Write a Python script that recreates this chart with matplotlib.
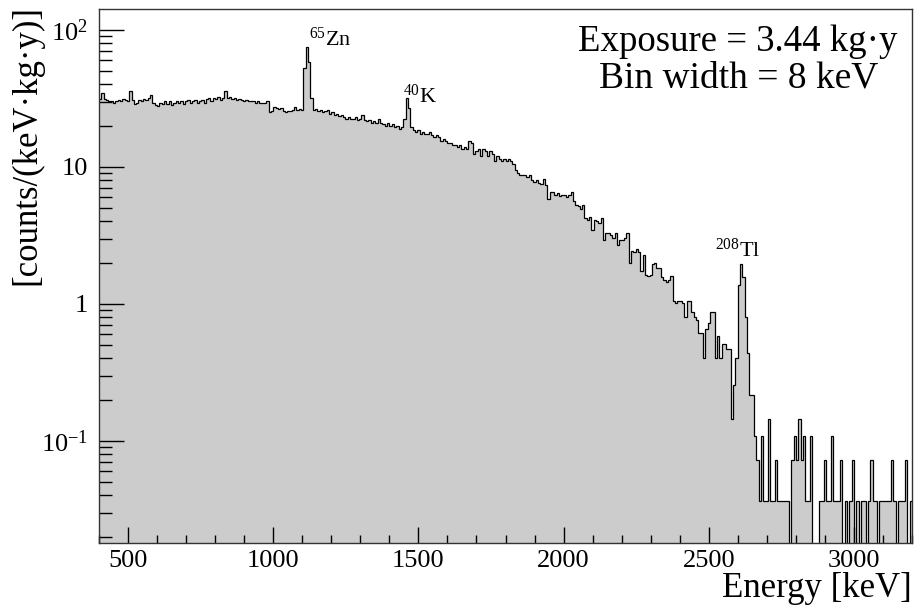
import numpy as np
import matplotlib
matplotlib.use("Agg")
import matplotlib.pyplot as plt
from matplotlib.ticker import MultipleLocator, LogLocator, NullFormatter

plt.rcParams['font.family'] = ['Liberation Serif', 'DejaVu Serif']
plt.rcParams['mathtext.fontset'] = 'custom'
plt.rcParams['mathtext.rm'] = 'Liberation Serif'
plt.rcParams['mathtext.it'] = 'Liberation Serif:italic'

# histogram settings
e_min = 400
bin_width = 8        # keV
exposure = 3.44      # kg*y

# counts per 8 keV bin
counts_low = [  # 400 - 1400 keV
    867, 949, 867, 853, 839, 826, 812, 839, 853, 826, 867, 853, 826, 991, 853, 798, 812, 853, 839, 867, 853, 881, 922, 812, 784,
    771, 812, 798, 839, 798, 826, 784, 812, 826, 812, 839, 798, 826, 853, 812, 826, 853, 812, 839, 853, 812, 867, 881, 839, 881,
    867, 894, 853, 881, 977, 881, 894, 867, 881, 853, 867, 853, 839, 853, 839, 839, 826, 812, 826, 812, 812, 812, 839, 688, 702,
    757, 743, 729, 743, 702, 688, 702, 702, 716, 757, 716, 729, 716, 1459, 2064, 1596, 881, 716, 729, 702, 716, 688, 702, 716, 674,
    688, 660, 674, 647, 660, 633, 619, 633, 619, 619, 633, 605, 619, 660, 605, 592, 605, 578, 592, 578, 619, 578, 564, 550, 578,
]
counts_mid = [  # 1400 - 2600 keV
    550, 564, 537, 550, 523, 537, 619, 881, 743, 537, 509, 495, 509, 482, 495, 482, 482, 495, 468, 454, 468, 454, 427, 440, 427,
    413, 413, 399, 399, 385, 399, 372, 385, 372, 427, 413, 344, 358, 372, 330, 372, 358, 330, 358, 344, 303, 330, 316, 303, 316,
    303, 316, 303, 289, 261, 248, 242, 239, 242, 234, 239, 220, 215, 220, 209, 206, 226, 204, 160, 182, 179, 173, 176, 168, 171,
    173, 165, 171, 179, 154, 146, 143, 135, 146, 116, 113, 118, 96, 113, 110, 107, 116, 80, 91, 91, 88, 83, 91, 74, 80,
    80, 83, 91, 55, 67, 66, 69, 66, 48, 63, 45, 44, 45, 54, 55, 50, 50, 43, 41, 40, 41, 44, 29, 28, 29,
    29, 28, 22, 29, 29, 24, 22, 21, 17, 17, 11, 18, 20, 24, 24, 11, 16, 11, 14, 14, 13, 13, 4, 7, 11,
]
counts_tail = [  # 2600 - 3200 keV
    38, 54, 43, 22, 12, 6, 6, 3, 2, 1, 3, 1, 1, 4, 1, 1, 2, 1, 1, 1, 1, 1, 0, 2, 3,
    2, 4, 2, 3, 1, 1, 3, 0, 0, 0, 1, 1, 2, 1, 1, 3, 1, 1, 1, 2, 0, 1, 0, 1, 2,
    0, 1, 0, 1, 1, 0, 1, 2, 1, 1, 0, 1, 1, 1, 1, 1, 2, 1, 0, 1, 1, 1, 2, 0, 1,
]

peak_labels = ['$^{65}$Zn', '$^{40}$K', '$^{208}$Tl']
peak_label_pos = [(0.284, 0.944), (0.395, 0.836), (0.786, 0.549)]

counts = np.array(counts_low + counts_mid + counts_tail, dtype=float)
edges = e_min + bin_width * np.arange(len(counts) + 1)
rate = counts / (bin_width * exposure)
# empty bins go down past the bottom of the axis, like ROOT draws them
rate_draw = np.where(counts > 0, rate, 1e-4)

fig = plt.figure(figsize=(9.14, 6.06), dpi=100)
ax = fig.add_axes([99 / 914, 63 / 606, 813 / 914, 534 / 606])

ax.stairs(rate_draw, edges, baseline=1e-4, fill=True, color='#cccccc', lw=0)
ax.stairs(rate_draw, edges, baseline=None, color='black', lw=0.9)

ax.set_yscale('log')
ax.set_xlim(400, 3200)
ax.set_ylim(0.018, 142)

ax.xaxis.set_major_locator(MultipleLocator(500))
ax.xaxis.set_minor_locator(MultipleLocator(100))
ax.set_yticks([0.1, 1, 10, 100])
ax.set_yticklabels(['$10^{-1}$', '1', '10', '$10^{2}$'])
ax.yaxis.set_minor_locator(LogLocator(base=10, subs=np.arange(2, 10)))
ax.yaxis.set_minor_formatter(NullFormatter())

ax.tick_params(axis='both', which='both', direction='in', top=False, right=False,
               labelsize=19, width=1, color='black')
ax.tick_params(axis='x', which='major', length=11.5, pad=5)
ax.tick_params(axis='x', which='minor', length=5.8)
ax.tick_params(axis='y', which='major', length=18, pad=8)
ax.tick_params(axis='y', which='minor', length=9.4)
for s in ax.spines.values():
    s.set_linewidth(1.0)
    s.set_color('#333333')

for lab, (x, y) in zip(peak_labels, peak_label_pos):
    ax.text(x, y, lab, transform=ax.transAxes, ha='center', va='center', fontsize=16)

ax.text(0.785, 0.938, 'Exposure = 3.44 kg·y', transform=ax.transAxes,
        ha='center', va='center', fontsize=26.5)
ax.text(0.787, 0.871, 'Bin width = 8 keV', transform=ax.transAxes,
        ha='center', va='center', fontsize=27)

fig.text(27 / 914, 1 - 5 / 606, '[counts/(keV·kg·y)]', rotation=90,
         ha='center', va='top', fontsize=25)
fig.text(912 / 914, 1 - 597 / 606, 'Energy [keV]', ha='right', va='baseline', fontsize=25)

fig.savefig('out.png', dpi=100)
